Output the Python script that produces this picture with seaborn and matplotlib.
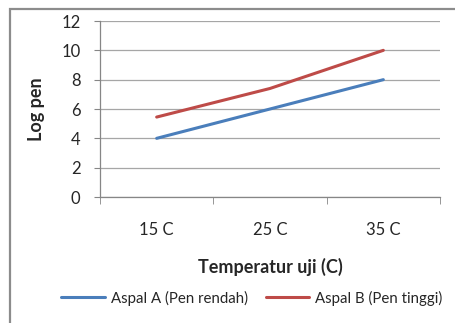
import matplotlib
matplotlib.use("Agg")
import matplotlib.pyplot as plt
import seaborn as sns
import pandas as pd
from matplotlib.patches import Rectangle

categories = ["15 C", "25 C", "35 C"]
aspal_a = [4.0, 6.0, 8.0]
aspal_b = [5.45, 7.4, 10.0]
series_names = ["Aspal A (Pen rendah)", "Aspal B (Pen tinggi)"]
colors = ["#4A7EBB", "#BE4B48"]
yticks = [0, 2, 4, 6, 8, 10, 12]

sns.set_style("white")
plt.rcParams['font.family'] = ['Lato', 'DejaVu Sans']

df = pd.DataFrame({
    "Temperatur": categories * 2,
    "Log pen": aspal_a + aspal_b,
    "Seri": [series_names[0]] * 3 + [series_names[1]] * 3,
})

fig = plt.figure(figsize=(4.56, 3.23), dpi=100)
ax = fig.add_axes([100/456, 1-197/323, 340/456, 176/323])

sns.lineplot(data=df, x="Temperatur", y="Log pen", hue="Seri",
             palette=colors, linewidth=2.2, ax=ax, sort=False, legend=True)

ax.set_xlim(-0.5, 2.5)
ax.set_ylim(0, 12)
ax.set_yticks(yticks)
ax.set_yticklabels([str(v) for v in yticks], fontsize=12)
ax.yaxis.grid(True, color="#a6a6a6", linewidth=0.9)
ax.set_axisbelow(True)
for s in ["top", "right"]:
    ax.spines[s].set_visible(False)
for s in ["left", "bottom"]:
    ax.spines[s].set_color("#868686")
    ax.spines[s].set_linewidth(0.9)
ax.tick_params(axis="y", length=4, color="#868686", pad=10, left=True)
ax.set_xticks(range(len(categories)))
ax.set_xticklabels(categories, fontsize=12)
ax.set_xticks([-0.5, 0.5, 1.5, 2.5], minor=True)
ax.tick_params(axis="x", which="major", length=0, pad=18)
ax.tick_params(axis="x", which="minor", length=5, color="#868686", bottom=True)
ax.set_xlabel("Temperatur uji (C)", fontsize=13, fontweight="bold", labelpad=14)
ax.set_ylabel("Log pen", fontsize=13, fontweight="bold", labelpad=12)

h, l = ax.get_legend_handles_labels()
ax.get_legend().remove()
fig.legend(h, l, loc="center", bbox_to_anchor=(252/456, 1-298/323), ncol=2,
           frameon=False, fontsize=10.8, handlelength=2.9, columnspacing=1.2,
           handletextpad=0.4)

fig.patches.append(Rectangle((10/456, -0.1), 1.0, 1-9/323+0.1, transform=fig.transFigure,
                             fill=False, edgecolor="#8c8c8c", linewidth=1.6))

fig.savefig("out.png", dpi=100)
